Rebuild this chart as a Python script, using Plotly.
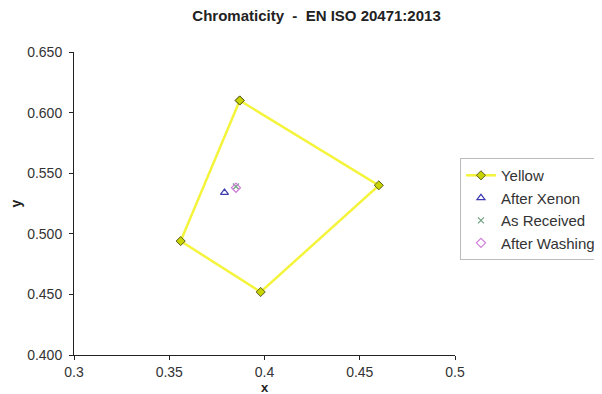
import plotly.graph_objects as go

# Data
yellow_x = [0.387, 0.460, 0.398, 0.356, 0.387]
yellow_y = [0.610, 0.540, 0.452, 0.494, 0.610]
xenon_x = [0.379]
xenon_y = [0.534]
received_x = [0.385]
received_y = [0.539]
washing_x = [0.385]
washing_y = [0.538]

x_ticks = [0.3, 0.35, 0.4, 0.45, 0.5]
x_ticklabels = ["0.3", "0.35", "0.4", "0.45", "0.5"]
y_ticks = [0.40, 0.45, 0.50, 0.55, 0.60, 0.65]
y_ticklabels = ["0.400", "0.450", "0.500", "0.550", "0.600", "0.650"]

fig = go.Figure()
fig.add_trace(go.Scatter(
    x=yellow_x, y=yellow_y, mode="lines+markers", name="Yellow",
    line=dict(color="#F4F43C", width=2.5),
    marker=dict(symbol="diamond", size=7, color="#C8D400",
                line=dict(color="#5A5A20", width=1)),
))
fig.add_trace(go.Scatter(
    x=xenon_x, y=xenon_y, mode="markers", name="After Xenon",
    marker=dict(symbol="triangle-up-open", size=7, color="#3C3CB0",
                line=dict(width=1.2)),
))
fig.add_trace(go.Scatter(
    x=received_x, y=received_y, mode="markers", name="As Received",
    marker=dict(symbol="x-thin-open", size=6, color="#70A080",
                line=dict(width=1.2, color="#70A080")),
))
fig.add_trace(go.Scatter(
    x=washing_x, y=washing_y, mode="markers", name="After Washing",
    marker=dict(symbol="diamond-open", size=7, color="#D080D8",
                line=dict(width=1.2)),
))

font_family = "Liberation Sans, Arial, sans-serif"
fig.update_layout(
    width=602, height=394,
    margin=dict(l=66, r=155, t=44, b=47, autoexpand=False),
    paper_bgcolor="white", plot_bgcolor="white",
    font=dict(family=font_family, size=14, color="#333333"),
    title=dict(text="<b>Chromaticity  -  EN ISO 20471:2013</b>",
               x=0.5125, xanchor="center", y=0.993, yanchor="top",
               font=dict(size=15, color="#222222")),
    showlegend=True,
    legend=dict(x=1.013, xanchor="left", y=0.650, yanchor="top",
                bordercolor="#BBBBBB", borderwidth=1, bgcolor="white",
                font=dict(size=15, color="#333333"),
                itemwidth=30, tracegroupgap=0),
    xaxis=dict(range=[0.3, 0.5], tickvals=x_ticks, ticktext=x_ticklabels,
               showgrid=False, zeroline=False, showline=True,
               linecolor="#222222", linewidth=1, ticks="outside",
               ticklen=4, tickcolor="#222222", automargin=False,
               title=dict(text="<b>x</b>", standoff=1,
                          font=dict(size=13, color="#222222"))),
    yaxis=dict(range=[0.40, 0.65], tickvals=y_ticks, ticktext=y_ticklabels,
               showgrid=False, zeroline=False, showline=True,
               linecolor="#222222", linewidth=1, ticks="outside",
               ticklen=4, tickcolor="#222222", automargin=False,
               ticklabelstandoff=4,
               title=dict(text="<b>y</b>", standoff=5,
                          font=dict(size=14, color="#222222"))),
)

fig.write_html("out.html")
